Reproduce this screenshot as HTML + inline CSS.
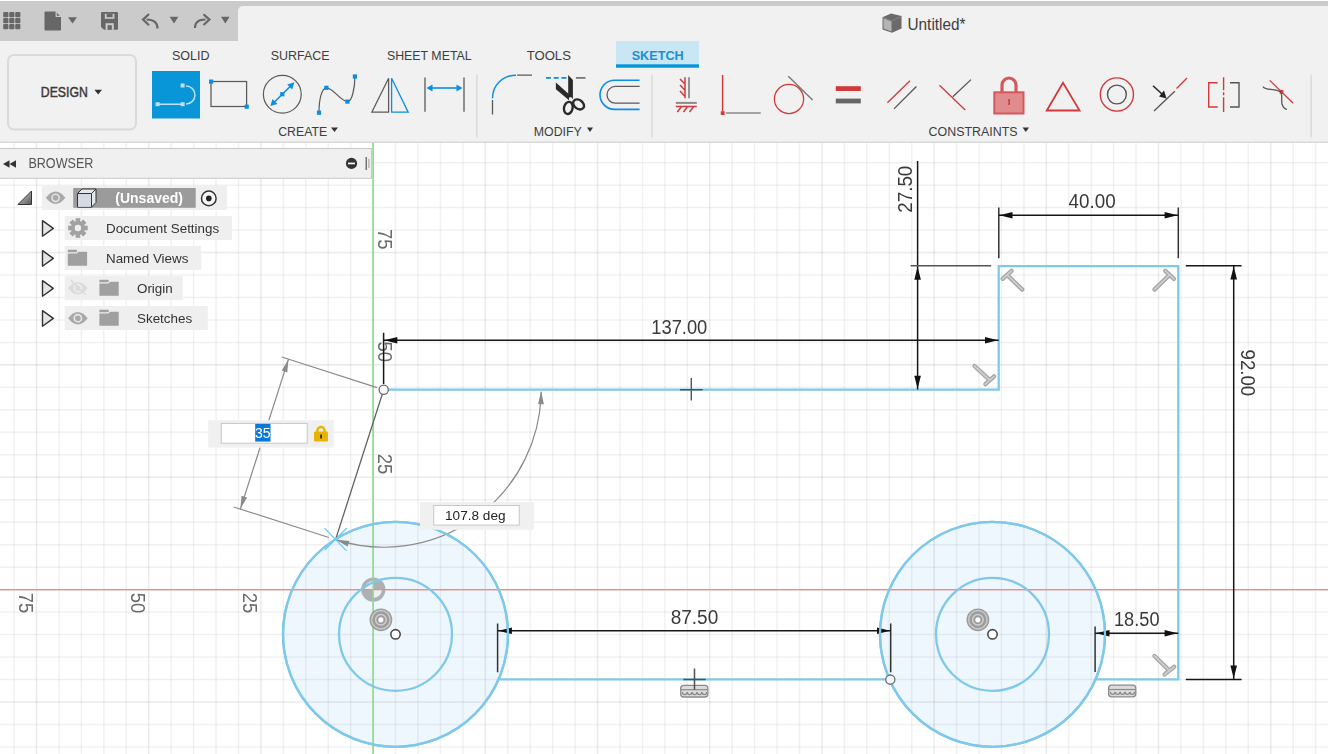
<!DOCTYPE html>
<html><head><meta charset="utf-8"><style>
html,body{margin:0;padding:0;width:1328px;height:754px;overflow:hidden;background:#f2f2f2;font-family:'Liberation Sans', sans-serif;}
</style></head><body>
<svg width="1328" height="754" viewBox="0 0 1328 754" style="position:absolute;left:0;top:0;will-change:transform">
<rect x="0" y="143" width="1328" height="611" fill="#ffffff"/>
<circle cx="395.5" cy="634.3" r="112.5" fill="#eef7fd"/>
<circle cx="992.5" cy="634.3" r="112.5" fill="#eef7fd"/>
<path d="M14.10 143V754M58.98 143V754M81.42 143V754M103.86 143V754M126.30 143V754M171.18 143V754M193.62 143V754M216.06 143V754M238.50 143V754M283.38 143V754M305.82 143V754M328.26 143V754M350.70 143V754M395.58 143V754M418.02 143V754M440.46 143V754M462.90 143V754M507.78 143V754M530.22 143V754M552.66 143V754M575.10 143V754M619.98 143V754M642.42 143V754M664.86 143V754M687.30 143V754M732.18 143V754M754.62 143V754M777.06 143V754M799.50 143V754M844.38 143V754M866.82 143V754M889.26 143V754M911.70 143V754M956.58 143V754M979.02 143V754M1001.46 143V754M1023.90 143V754M1068.78 143V754M1091.22 143V754M1113.66 143V754M1136.10 143V754M1180.98 143V754M1203.42 143V754M1225.86 143V754M1248.30 143V754M1293.18 143V754M1315.62 143V754" stroke="#000" stroke-opacity="0.055" stroke-width="1.5" fill="none"/>
<path d="M0 162.67H1328M0 185.14H1328M0 207.61H1328M0 230.08H1328M0 275.02H1328M0 297.49H1328M0 319.96H1328M0 342.43H1328M0 387.37H1328M0 409.84H1328M0 432.31H1328M0 454.78H1328M0 499.72H1328M0 522.19H1328M0 544.66H1328M0 567.13H1328M0 612.07H1328M0 634.54H1328M0 657.01H1328M0 679.48H1328M0 724.42H1328M0 746.89H1328" stroke="#000" stroke-opacity="0.055" stroke-width="1.5" fill="none"/>
<path d="M36.54 143V754M148.74 143V754M260.94 143V754M485.34 143V754M597.54 143V754M709.74 143V754M821.94 143V754M934.14 143V754M1046.34 143V754M1158.54 143V754M1270.74 143V754" stroke="#000" stroke-opacity="0.08" stroke-width="1.6" fill="none"/>
<path d="M0 252.55H1328M0 364.90H1328M0 477.25H1328M0 701.95H1328" stroke="#000" stroke-opacity="0.08" stroke-width="1.6" fill="none"/>
<path d="M0 589.6H1328" stroke="#e48f8f" stroke-width="1.2"/>
<path d="M373.14 143V754" stroke="#92dc92" stroke-width="1.3"/>
<path d="M0 142.5H1328" stroke="#e2e2e2" stroke-width="1"/>
<text transform="translate(18.8,592.8) rotate(90)" style="font-family:'Liberation Sans', sans-serif;font-size:20.6px;fill:#6a6a6a" textLength="20.6" lengthAdjust="spacingAndGlyphs" x="0" y="0">75</text>
<text transform="translate(130.9,592.8) rotate(90)" style="font-family:'Liberation Sans', sans-serif;font-size:20.6px;fill:#6a6a6a" textLength="20.6" lengthAdjust="spacingAndGlyphs" x="0" y="0">50</text>
<text transform="translate(243.0,592.8) rotate(90)" style="font-family:'Liberation Sans', sans-serif;font-size:20.6px;fill:#6a6a6a" textLength="20.6" lengthAdjust="spacingAndGlyphs" x="0" y="0">25</text>
<text transform="translate(378.2,249.65) rotate(90)" style="font-family:'Liberation Sans', sans-serif;font-size:20.6px;fill:#6a6a6a" text-anchor="end" textLength="20.6" lengthAdjust="spacingAndGlyphs" x="0" y="0">75</text>
<text transform="translate(378.2,362.00) rotate(90)" style="font-family:'Liberation Sans', sans-serif;font-size:20.6px;fill:#6a6a6a" text-anchor="end" textLength="20.6" lengthAdjust="spacingAndGlyphs" x="0" y="0">50</text>
<text transform="translate(378.2,474.35) rotate(90)" style="font-family:'Liberation Sans', sans-serif;font-size:20.6px;fill:#6a6a6a" text-anchor="end" textLength="20.6" lengthAdjust="spacingAndGlyphs" x="0" y="0">25</text>
<circle cx="373.34" cy="589.6" r="12.1" fill="#adb1b4"/>
<path d="M373.34 589.6H381.84A8.5 8.5 0 0 1 373.34 598.1Z M373.34 589.6H364.84A8.5 8.5 0 0 1 373.34 581.1Z" fill="#eaf1f5"/>
<path d="M0 589.6H1328" stroke="#e48f8f" stroke-width="1.4"/>
<path d="M373.14 143V754" stroke="#8ddb8d" stroke-width="1.35"/>
<circle cx="395.5" cy="634.3" r="112.5" fill="none" stroke="#7fc8ea" stroke-width="2.3"/>
<circle cx="395.5" cy="634.3" r="56.5" fill="none" stroke="#7fc8ea" stroke-width="2.3"/>
<circle cx="992.5" cy="634.3" r="112.5" fill="none" stroke="#7fc8ea" stroke-width="2.3"/>
<circle cx="992.5" cy="634.3" r="56.5" fill="none" stroke="#7fc8ea" stroke-width="2.3"/>
<path d="M387.7 389.7H998.7V266.1H1178.3V679.4H1095.56M498.56 679.4H889.44" fill="none" stroke="#7fc8ea" stroke-width="2.3" stroke-linejoin="miter"/>
<path d="M383.70 389.70L335.55 539.66" stroke="#5e5e5e" stroke-width="1.3"/>
<path d="M377.04 387.56L281.82 356.99" stroke="#8a8a8a" stroke-width="1.2"/>
<path d="M328.89 537.52L233.68 506.95" stroke="#8a8a8a" stroke-width="1.2"/>
<path d="M288.49 359.13L240.34 509.09" stroke="#8a8a8a" stroke-width="1.2"/>
<path d="M288.49 359.13L287.27 372.39L281.75 370.62Z" fill="#8a8a8a"/>
<path d="M240.34 509.09L241.55 495.83L247.08 497.60Z" fill="#8a8a8a"/>
<path d="M541.20 391.70A157.5 157.5 0 0 1 335.55 539.66" stroke="#8a8a8a" stroke-width="1.2" fill="none"/>
<path d="M541.00 391.20L543.90 404.20L538.10 404.20Z" fill="#8a8a8a"/>
<path d="M336.08 539.83L349.34 541.04L347.57 546.56Z" fill="#8a8a8a"/>
<path d="M324.55 528.16L346.55 550.86M324.75 550.06L346.85 528.06" stroke="#6cc8f2" stroke-width="1.3"/>
<circle cx="383.7" cy="389.7" r="4.6" fill="#f4f8fa" stroke="#6c6c6c" stroke-width="1.3"/>
<path d="M383.6 332.7V384M383.6 340.2H998.7" stroke="#161616" stroke-width="1.5" fill="none"/>
<path d="M384.30 340.20L397.30 336.90L397.30 343.50Z" fill="#111"/>
<path d="M998.00 340.20L985.00 343.50L985.00 336.90Z" fill="#111"/>
<text x="679.3" y="333.5" text-anchor="middle" textLength="56" lengthAdjust="spacingAndGlyphs" style="font-family:'Liberation Sans', sans-serif;font-size:19.4px;fill:#3a3a3a">137.00</text>
<path d="M917.6 161V389.5" stroke="#161616" stroke-width="1.5"/>
<path d="M910.6 265.8H991.2" stroke="#555" stroke-width="1.5"/>
<path d="M917.60 266.80L920.90 279.80L914.30 279.80Z" fill="#111"/>
<path d="M917.60 388.70L914.30 375.70L920.90 375.70Z" fill="#111"/>
<text transform="translate(911.5,189.2) rotate(-90)" text-anchor="middle" textLength="47" lengthAdjust="spacingAndGlyphs" style="font-family:'Liberation Sans', sans-serif;font-size:19.4px;fill:#3a3a3a">27.50</text>
<path d="M998.8 207.4V258.3M1178.3 207.4V258.3" stroke="#333" stroke-width="1.5"/>
<path d="M998.8 215.2H1178.3" stroke="#161616" stroke-width="1.5"/>
<path d="M999.50 215.20L1012.50 211.90L1012.50 218.50Z" fill="#111"/>
<path d="M1177.60 215.20L1164.60 218.50L1164.60 211.90Z" fill="#111"/>
<text x="1092.1" y="208.1" text-anchor="middle" textLength="47" lengthAdjust="spacingAndGlyphs" style="font-family:'Liberation Sans', sans-serif;font-size:19.4px;fill:#3a3a3a">40.00</text>
<path d="M1185.8 265.8H1241.6M1185.8 679.4H1241.6" stroke="#161616" stroke-width="1.5"/>
<path d="M1233.7 265.8V679.4" stroke="#161616" stroke-width="1.5"/>
<path d="M1233.70 266.60L1237.00 279.60L1230.40 279.60Z" fill="#111"/>
<path d="M1233.70 678.60L1230.40 665.60L1237.00 665.60Z" fill="#111"/>
<text transform="translate(1240.6,372.85) rotate(90)" text-anchor="middle" textLength="46.7" lengthAdjust="spacingAndGlyphs" style="font-family:'Liberation Sans', sans-serif;font-size:19.4px;fill:#3a3a3a">92.00</text>
<path d="M497.6 623.6V672.3M890.7 623.6V672.3" stroke="#333" stroke-width="1.5"/>
<path d="M497.6 630.8H890.7" stroke="#161616" stroke-width="1.5"/>
<path d="M498.40 630.80L511.90 627.50L511.90 634.10Z" fill="#111"/>
<path d="M890.00 630.80L877.00 634.10L877.00 627.50Z" fill="#111"/>
<text x="694.45" y="624.4" text-anchor="middle" textLength="47.5" lengthAdjust="spacingAndGlyphs" style="font-family:'Liberation Sans', sans-serif;font-size:19.4px;fill:#3a3a3a">87.50</text>
<path d="M1095.1 626.6V672" stroke="#333" stroke-width="1.5"/>
<path d="M1095.1 633.3H1178.3" stroke="#161616" stroke-width="1.5"/>
<path d="M1096.00 633.30L1109.50 630.00L1109.50 636.60Z" fill="#111"/>
<path d="M1177.60 633.30L1164.60 636.60L1164.60 630.00Z" fill="#111"/>
<text x="1136.75" y="626.0" text-anchor="middle" textLength="45.5" lengthAdjust="spacingAndGlyphs" style="font-family:'Liberation Sans', sans-serif;font-size:19.4px;fill:#3a3a3a">18.50</text>
<circle cx="395.5" cy="634.3" r="112.5" fill="none" stroke="#7fc8ea" stroke-width="2.3"/>
<circle cx="992.5" cy="634.3" r="112.5" fill="none" stroke="#7fc8ea" stroke-width="2.3"/>
<path d="M1002.7 278.9L1011.5 270.9M1007.1 274.9L1022.3 289.6" stroke="#a4a4a4" stroke-width="4.3" stroke-linecap="round" fill="none"/>
<path d="M1002.7 278.9L1011.5 270.9M1007.1 274.9L1022.3 289.6" stroke="#cdcdcd" stroke-width="1.9" stroke-linecap="round" fill="none"/>
<path d="M1165.2 270.9L1174.0 278.9M1169.6 274.9L1154.4 289.6" stroke="#a4a4a4" stroke-width="4.3" stroke-linecap="round" fill="none"/>
<path d="M1165.2 270.9L1174.0 278.9M1169.6 274.9L1154.4 289.6" stroke="#cdcdcd" stroke-width="1.9" stroke-linecap="round" fill="none"/>
<path d="M985.4 384.1L994.1 376.4M989.8 380.2L974.5 366.0" stroke="#a4a4a4" stroke-width="4.3" stroke-linecap="round" fill="none"/>
<path d="M985.4 384.1L994.1 376.4M989.8 380.2L974.5 366.0" stroke="#cdcdcd" stroke-width="1.9" stroke-linecap="round" fill="none"/>
<path d="M1164.6 674.4L1174.2 666.8M1169.4 670.6L1154.5 656.0" stroke="#a4a4a4" stroke-width="4.3" stroke-linecap="round" fill="none"/>
<path d="M1164.6 674.4L1174.2 666.8M1169.4 670.6L1154.5 656.0" stroke="#cdcdcd" stroke-width="1.9" stroke-linecap="round" fill="none"/>
<path d="M691.3 378V400.5M680 389.7H702.7" stroke="#555" stroke-width="1.4"/>
<rect x="680.7" y="685.4" width="27.2" height="11.6" rx="3" fill="#dcdcdc" stroke="#8a8a8a" stroke-width="1.3"/>
<path d="M680.7 689.6999999999999H707.9000000000001" stroke="#8a8a8a" stroke-width="1.2"/>
<path d="M682.5 692.0a2.3 2.6 0 0 0 4.6 0M687.4 692.0a2.3 2.6 0 0 0 4.6 0M692.3 692.0a2.3 2.6 0 0 0 4.6 0M697.2 692.0a2.3 2.6 0 0 0 4.6 0M702.1 692.0a2.3 2.6 0 0 0 4.6 0" stroke="#8a8a8a" stroke-width="1.2" fill="none"/>
<path d="M694.5 668.4V689.8M683.4 679.6H705.8" stroke="#505050" stroke-width="1.5"/>
<rect x="1108.6" y="685.2" width="27.2" height="11.6" rx="3" fill="#dcdcdc" stroke="#8a8a8a" stroke-width="1.3"/>
<path d="M1108.6 689.5H1135.8" stroke="#8a8a8a" stroke-width="1.2"/>
<path d="M1110.4 691.8a2.3 2.6 0 0 0 4.6 0M1115.3 691.8a2.3 2.6 0 0 0 4.6 0M1120.2 691.8a2.3 2.6 0 0 0 4.6 0M1125.1 691.8a2.3 2.6 0 0 0 4.6 0M1130.0 691.8a2.3 2.6 0 0 0 4.6 0" stroke="#8a8a8a" stroke-width="1.2" fill="none"/>
<circle cx="890.3" cy="679.6" r="4.6" fill="#eef6fb" stroke="#6c6c6c" stroke-width="1.3"/>
<circle cx="380.9" cy="619.8" r="11.4" fill="#9c9c9c"/>
<circle cx="380.9" cy="619.8" r="9.2" fill="none" stroke="#c8c8c8" stroke-width="1.5"/>
<circle cx="380.9" cy="619.8" r="5.3" fill="none" stroke="#cfcfcf" stroke-width="1.5"/>
<circle cx="380.9" cy="619.8" r="2.6" fill="#fbfdff"/>
<circle cx="395.5" cy="634.3" r="4.7" fill="#fff" stroke="#4a4a4a" stroke-width="1.6"/>
<circle cx="977.9" cy="619.8" r="11.4" fill="#9c9c9c"/>
<circle cx="977.9" cy="619.8" r="9.2" fill="none" stroke="#c8c8c8" stroke-width="1.5"/>
<circle cx="977.9" cy="619.8" r="5.3" fill="none" stroke="#cfcfcf" stroke-width="1.5"/>
<circle cx="977.9" cy="619.8" r="2.6" fill="#fbfdff"/>
<circle cx="992.5" cy="634.3" r="4.7" fill="#fff" stroke="#4a4a4a" stroke-width="1.6"/>
<rect x="208.2" y="420.2" width="125.5" height="27.4" fill="#f0f0f0"/>
<rect x="221.2" y="423.4" width="86" height="19.8" fill="#fff" stroke="#c6c6c6" stroke-width="1"/>
<rect x="255.2" y="423.9" width="15.3" height="17.7" fill="#0a78d6"/>
<text x="262.8" y="438.3" text-anchor="middle" style="font-family:'Liberation Sans', sans-serif;font-size:14px;fill:#fff">35</text>
<path d="M317.4 432.5V430.6a3.6 3.6 0 0 1 7.2 0V432.5" fill="none" stroke="#e3b600" stroke-width="2.5"/>
<rect x="314" y="431.6" width="14" height="10" rx="1" fill="#e9b400"/>
<rect x="320.2" y="434.5" width="1.8" height="4" fill="#3a2a00"/>
<rect x="420" y="502.1" width="113.9" height="27.7" fill="#f0f0f0"/>
<rect x="433.7" y="505.5" width="85.6" height="19.6" fill="#fff" stroke="#c8c8c8" stroke-width="1"/>
<text x="475.3" y="519.5" text-anchor="middle" style="font-family:'Liberation Sans', sans-serif;font-size:13.6px;fill:#222">107.8 deg</text>
</svg>
<svg width="1328" height="754" viewBox="0 0 1328 754" style="position:absolute;left:0;top:0">
<rect x="0" y="0" width="1328" height="1" fill="#ffffff"/>
<rect x="0" y="1" width="1328" height="40" fill="#cbcbcb"/>
<path d="M238 41V11a5 5 0 0 1 5 -5H1328V41Z" fill="#f1f1f1"/>
<rect x="0" y="41" width="1328" height="101" fill="#f1f1f1"/>
<rect x="0" y="141.5" width="1328" height="1.5" fill="#d9d9d9"/>
<rect x="3.2" y="12.0" width="5.2" height="5.2" rx="1" fill="#676767"/>
<rect x="3.2" y="18.0" width="5.2" height="5.2" rx="1" fill="#676767"/>
<rect x="3.2" y="24.0" width="5.2" height="5.2" rx="1" fill="#676767"/>
<rect x="9.2" y="12.0" width="5.2" height="5.2" rx="1" fill="#676767"/>
<rect x="9.2" y="18.0" width="5.2" height="5.2" rx="1" fill="#676767"/>
<rect x="9.2" y="24.0" width="5.2" height="5.2" rx="1" fill="#676767"/>
<rect x="15.2" y="12.0" width="5.2" height="5.2" rx="1" fill="#676767"/>
<rect x="15.2" y="18.0" width="5.2" height="5.2" rx="1" fill="#676767"/>
<rect x="15.2" y="24.0" width="5.2" height="5.2" rx="1" fill="#676767"/>
<path d="M45.5 11.5H55.5L61 17V29.5a1 1 0 0 1 -1 1H45.5a1 1 0 0 1 -1 -1V12.5a1 1 0 0 1 1 -1Z" fill="#676767"/>
<path d="M56.2 11.2V16.4H61.3" fill="none" stroke="#cbcbcb" stroke-width="1.2"/>
<path d="M68 17.3H77L72.5 23.4Z" fill="#676767"/>
<path d="M102 12H117a1 1 0 0 1 1 1V28.8a1 1 0 0 1 -1 1H104L101 27V13a1 1 0 0 1 1 -1Z" fill="#676767"/>
<rect x="104.8" y="13.8" width="9.6" height="5" fill="#cbcbcb"/>
<rect x="106.6" y="13.8" width="6" height="3.4" fill="#676767"/>
<rect x="105.6" y="23.2" width="8.2" height="6.6" fill="#cbcbcb"/>
<rect x="107.6" y="25.2" width="4.2" height="4.6" fill="#676767"/>
<path d="M157.5 28.5C157.5 22 153 19.5 146.5 19.5" fill="none" stroke="#676767" stroke-width="2.2"/>
<path d="M149 14L143 19.6L149 25.2" fill="none" stroke="#676767" stroke-width="2.2"/>
<path d="M169.7 16.7H178.4L174 23.5Z" fill="#676767"/>
<path d="M195 28C195 22 199 19.5 205.5 19.5" fill="none" stroke="#676767" stroke-width="2.2"/>
<path d="M203.5 14.2L209.4 19.6L203.5 25" fill="none" stroke="#676767" stroke-width="2.2"/>
<path d="M221 16.7H229.6L225.3 23.5Z" fill="#676767"/>
<path d="M882.5 17.2L891 13.5L901.5 16V28.5L892 32.8L882.5 29.5Z" fill="#6a6a6a"/>
<path d="M883.5 18.2L891.5 21.5V31.5L883.5 28.5Z" fill="#b4b4b4"/>
<path d="M883 17.5L891.5 21L901.5 16.5" fill="none" stroke="#8a8a8a" stroke-width="0.8"/>
<text x="907.5" y="29.7" textLength="58" lengthAdjust="spacingAndGlyphs" style="font-family:'Liberation Sans', sans-serif;font-size:16.2px;fill:#404040">Untitled*</text>
<rect x="8" y="55" width="128" height="74.5" rx="6" fill="#f1f1f1" stroke="#dadada" stroke-width="2"/>
<text x="40.8" y="97.3" textLength="47" lengthAdjust="spacingAndGlyphs" style="font-family:'Liberation Sans', sans-serif;font-size:14px;fill:#3a3a3a;stroke:#3a3a3a;stroke-width:0.45px">DESIGN</text>
<path d="M94.4 89.8H102L98.2 94.6Z" fill="#333"/>
<text x="172.0" y="59.6" textLength="37.6" lengthAdjust="spacingAndGlyphs" style="font-family:'Liberation Sans', sans-serif;font-size:13.5px;fill:#3d3d3d">SOLID</text>
<text x="270.8" y="59.6" textLength="58.8" lengthAdjust="spacingAndGlyphs" style="font-family:'Liberation Sans', sans-serif;font-size:13.5px;fill:#3d3d3d">SURFACE</text>
<text x="386.9" y="59.6" textLength="84.8" lengthAdjust="spacingAndGlyphs" style="font-family:'Liberation Sans', sans-serif;font-size:13.5px;fill:#3d3d3d">SHEET METAL</text>
<text x="526.7" y="59.6" textLength="44.2" lengthAdjust="spacingAndGlyphs" style="font-family:'Liberation Sans', sans-serif;font-size:13.5px;fill:#3d3d3d">TOOLS</text>
<rect x="616" y="41" width="83" height="26.5" fill="#c9e6f5"/>
<rect x="616" y="64.3" width="83" height="3.4" fill="#0696d7"/>
<text x="631.7" y="59.6" textLength="52" lengthAdjust="spacingAndGlyphs" style="font-family:'Liberation Sans', sans-serif;font-size:13px;font-weight:bold;fill:#1d8fd1">SKETCH</text>
<text x="278.2" y="135.6" textLength="49" lengthAdjust="spacingAndGlyphs" style="font-family:'Liberation Sans', sans-serif;font-size:13.7px;fill:#3d3d3d">CREATE</text>
<path d="M331 127.5H338L334.5 132Z" fill="#333"/>
<text x="533.8" y="135.6" textLength="48" lengthAdjust="spacingAndGlyphs" style="font-family:'Liberation Sans', sans-serif;font-size:13.7px;fill:#3d3d3d">MODIFY</text>
<path d="M587 127.5H593L590 132Z" fill="#333"/>
<text x="928.6" y="135.6" textLength="89" lengthAdjust="spacingAndGlyphs" style="font-family:'Liberation Sans', sans-serif;font-size:13.7px;fill:#3d3d3d">CONSTRAINTS</text>
<path d="M1022.6 127.5H1029L1025.8 132Z" fill="#333"/>
<rect x="476.2" y="74.5" width="1.3" height="63" fill="#d6d6d6"/>
<rect x="651.4" y="74.5" width="1.3" height="63" fill="#d6d6d6"/>
<rect x="1310.4" y="74.5" width="1.3" height="63" fill="#d6d6d6"/>
<rect x="152" y="71" width="48" height="47.5" fill="#0896d8"/>
<path d="M159 104.2H182.6M186 86A9 9 0 0 1 186 104" fill="none" stroke="#bfe0f3" stroke-width="1.5"/>
<rect x="155.6" y="102.2" width="4" height="4" fill="#bfe0f3"/>
<rect x="180.6" y="102.2" width="4" height="4" fill="#bfe0f3"/>
<rect x="180.6" y="83.5" width="4" height="4" fill="#bfe0f3"/>
<rect x="211" y="81.5" width="35.6" height="25" fill="none" stroke="#5a5a5a" stroke-width="1.25"/>
<rect x="209" y="79.5" width="4.2" height="4.2" fill="#0a8fe6"/>
<rect x="244.6" y="104.6" width="4.2" height="4.2" fill="#0a8fe6"/>
<circle cx="282.3" cy="94.2" r="18.9" fill="none" stroke="#5a5a5a" stroke-width="1.2"/>
<path d="M273 103.5L291.8 84.8" stroke="#0a8fe6" stroke-width="1.6"/>
<path d="M294.4 82.3L287.2 84.5L292.2 89.5Z" fill="#0a8fe6"/>
<path d="M270.3 106.1L272.5 98.9L277.5 103.9Z" fill="#0a8fe6"/>
<rect x="280.2" y="92.1" width="4.2" height="4.2" fill="#0a8fe6"/>
<path d="M319 112.7C319 98 322 88 326.4 87.8C333 87.5 340 101 347.4 101.6C352 102 354.9 88 354.9 76.5" fill="none" stroke="#5a5a5a" stroke-width="1.2"/>
<rect x="316.9" y="110.60000000000001" width="4.2" height="4.2" fill="#0a8fe6"/>
<rect x="324.29999999999995" y="85.7" width="4.2" height="4.2" fill="#0a8fe6"/>
<rect x="345.29999999999995" y="99.5" width="4.2" height="4.2" fill="#0a8fe6"/>
<rect x="352.79999999999995" y="74.4" width="4.2" height="4.2" fill="#0a8fe6"/>
<path d="M371.8 112.2L388.6 78.3V112.2Z" fill="none" stroke="#5a5a5a" stroke-width="1.25" stroke-linejoin="miter"/>
<path d="M391.6 78.3V112.2H408.2Z" fill="none" stroke="#0a8fe6" stroke-width="1.3"/>
<path d="M425 77.5V111.7M464 77.5V111.7" stroke="#5a5a5a" stroke-width="1.3"/>
<path d="M430 88H459" stroke="#0a8fe6" stroke-width="1.6"/>
<path d="M426.5 88L432.5 84.5V91.5Z M462.5 88L456.5 84.5V91.5Z" fill="#0a8fe6"/>
<path d="M492.5 100V114.5M517 75.2H532" stroke="#5a5a5a" stroke-width="1.3"/>
<path d="M492.5 98.2C492.5 85 503 75.2 516 75.2" fill="none" stroke="#0a8fe6" stroke-width="1.5"/>
<path d="M546 77.9H566.5" stroke="#0a8fe6" stroke-width="1.8" stroke-dasharray="5,2.7"/>
<path d="M575.9 77.9H585.5" stroke="#777" stroke-width="1.8"/>
<path d="M568.2 75L572.9 80V98.8L568.2 97.5Z" fill="#2a2a2a"/>
<path d="M555.9 82.6L569 94.2V100.2L555.9 89.2Z" fill="#2a2a2a"/>
<circle cx="570.5" cy="98.6" r="1.5" fill="#f1f1f1"/>
<ellipse cx="568.3" cy="107.9" rx="4.3" ry="6.1" transform="rotate(12 568.3 107.9)" fill="none" stroke="#2a2a2a" stroke-width="2.4"/>
<ellipse cx="578.6" cy="104.4" rx="4.4" ry="6.0" transform="rotate(-52 578.6 104.4)" fill="none" stroke="#2a2a2a" stroke-width="2.4"/>
<path d="M639.6 80.2H614.6A14.6 14.6 0 0 0 614.6 109.4H639.6" fill="none" stroke="#0a8fe6" stroke-width="1.6"/>
<path d="M639.6 86.4H615.4A8.4 8.4 0 0 0 615.4 103.2H639.6" fill="none" stroke="#5a5a5a" stroke-width="1.3"/>
<path d="M689 77.2V98.2" stroke="#8a8a8a" stroke-width="1.8"/>
<path d="M675.8 102.9H696.8" stroke="#8a8a8a" stroke-width="2"/>
<path d="M685 77.2V98.2M680 79L685 84M680 85L685 90.2M680 91L685 96.4" stroke="#d03a3a" stroke-width="1.5" fill="none"/>
<path d="M675.8 106.4H696.8M681.7 106.4L677.3 112M687.8 106.4L683.4 112M694 106.4L689.5 112" stroke="#d03a3a" stroke-width="1.5" fill="none"/>
<path d="M722.6 75V111" stroke="#d03a3a" stroke-width="1.5"/>
<rect x="720.8" y="111.2" width="3.8" height="3.8" fill="#d03a3a"/>
<path d="M726 113H760.7" stroke="#888" stroke-width="1.5"/>
<circle cx="789" cy="99" r="14.6" fill="none" stroke="#d03a3a" stroke-width="1.3"/>
<path d="M788.3 76.3L812.6 100" stroke="#777" stroke-width="1.4"/>
<rect x="835.8" y="86.2" width="25" height="4.8" fill="#d03a3a"/>
<rect x="835.8" y="98.6" width="25" height="4.8" fill="#666"/>
<path d="M887.4 102.8L910 80.7" stroke="#d03a3a" stroke-width="1.3"/>
<path d="M894 108.9L916.4 86.5" stroke="#555" stroke-width="1.3"/>
<path d="M939.5 85.2L965.2 110" stroke="#d03a3a" stroke-width="1.3"/>
<path d="M952.8 96.8L971 79.6" stroke="#555" stroke-width="1.3"/>
<path d="M1002 92V85a7 7 0 0 1 14 0V92" fill="none" stroke="#d5585c" stroke-width="3.2"/>
<rect x="994.3" y="92.3" width="29.2" height="21.2" fill="#e08c8e" stroke="#d5585c" stroke-width="2"/>
<rect x="1008.3" y="99" width="1.6" height="6" fill="#c04044"/>
<path d="M1046.8 110.5L1063 82.8L1079.6 110.5Z" fill="none" stroke="#d03a3a" stroke-width="1.8" stroke-linejoin="miter"/>
<circle cx="1116.9" cy="94.5" r="16.6" fill="none" stroke="#d03a3a" stroke-width="1.4"/>
<circle cx="1116.9" cy="94.5" r="9.4" fill="none" stroke="#555" stroke-width="1.4"/>
<path d="M1154 111L1174.8 91.2" stroke="#555" stroke-width="1.3"/>
<path d="M1176.6 88.5L1187 78" stroke="#d03a3a" stroke-width="1.3"/>
<path d="M1153 85.8L1162 94" stroke="#222" stroke-width="1.5"/>
<path d="M1166.5 98.6L1159 96.5L1164 90.5Z" fill="#222"/>
<path d="M1217.8 82.7H1208.7V107H1217.8" fill="none" stroke="#d03a3a" stroke-width="1.4"/>
<path d="M1230 82.7H1239V107H1230" fill="none" stroke="#555" stroke-width="1.4"/>
<path d="M1223.6 77.3V112" stroke="#d03a3a" stroke-width="1.4" stroke-dasharray="13,2,3,2,16"/>
<path d="M1269.7 80.4L1293.2 103.3" stroke="#d03a3a" stroke-width="1.3"/>
<rect x="1279.6" y="89.9" width="3.8" height="3.8" fill="#d03a3a"/>
<path d="M1263 86.7C1266 91 1273 88 1280 91.5C1283 93 1281 99 1282 104C1283 107 1285 109 1287 109.3" fill="none" stroke="#555" stroke-width="1.3"/>
<rect x="-1" y="148.5" width="372.5" height="29.8" fill="#f0f0f0" stroke="#c8c8c8" stroke-width="1"/>
<path d="M3 164L9.5 160.3V167.7Z M9.5 164L16 160.3V167.7Z" fill="#333"/>
<text x="28.4" y="168.4" textLength="65" lengthAdjust="spacingAndGlyphs" style="font-family:'Liberation Sans', sans-serif;font-size:14.2px;fill:#555">BROWSER</text>
<circle cx="351.5" cy="163.4" r="5.6" fill="#333"/>
<rect x="348" y="162.6" width="7" height="1.7" fill="#fff"/>
<rect x="365.6" y="157" width="1.2" height="13" fill="#555"/>
<rect x="368.3" y="159" width="1.2" height="9" fill="#aaa"/>
<rect x="42" y="186" width="185" height="24" fill="#efefef"/>
<rect x="64.7" y="216" width="167.3" height="24" fill="#efefef"/>
<rect x="64.7" y="246" width="136.5" height="24" fill="#efefef"/>
<rect x="64.7" y="276" width="118.1" height="24" fill="#efefef"/>
<rect x="64.7" y="306" width="143.1" height="24" fill="#efefef"/>
<defs><linearGradient id="tg" x1="0" y1="0" x2="1" y2="1"><stop offset="0" stop-color="#ddd"/><stop offset="1" stop-color="#555"/></linearGradient></defs>
<path d="M18 204.5L31.5 191V204.5Z" fill="url(#tg)" stroke="#333" stroke-width="1"/>
<path d="M45.8 197.8Q55.6 185.3 65.4 197.8Q55.6 210.3 45.8 197.8Z" fill="#a9a9a9"/><circle cx="55.6" cy="197.8" r="3.6" fill="none" stroke="#e2e2e2" stroke-width="1.6"/>
<rect x="73.2" y="188" width="122.5" height="19.8" fill="#9b9b9b"/>
<path d="M77.5 193.5L82 189H96L96 202.5L91.5 207.2H77.5Z" fill="#e4e7ec" stroke="#333" stroke-width="1"/>
<path d="M77.5 193.5H91.5V207.2M91.5 193.5L96 189" fill="none" stroke="#333" stroke-width="1"/>
<path d="M78 194H91V206.7H78Z" fill="#d6dbe3"/>
<text x="115.3" y="202.8" style="font-family:'Liberation Sans', sans-serif;font-size:14px;font-weight:bold;fill:#ffffff">(Unsaved)</text>
<circle cx="208.8" cy="198.4" r="7.3" fill="#f6f6f6" stroke="#333" stroke-width="1.5"/>
<circle cx="208.8" cy="198.4" r="2.8" fill="#222"/>
<path d="M42.5 220.6L53.3 228.4L42.5 236.20000000000002Z" fill="#e4e6ea" stroke="#333" stroke-width="1.4" stroke-linejoin="round"/>
<path d="M42.5 250.59999999999997L53.3 258.4L42.5 266.2Z" fill="#e4e6ea" stroke="#333" stroke-width="1.4" stroke-linejoin="round"/>
<path d="M42.5 280.59999999999997L53.3 288.4L42.5 296.2Z" fill="#e4e6ea" stroke="#333" stroke-width="1.4" stroke-linejoin="round"/>
<path d="M42.5 310.59999999999997L53.3 318.4L42.5 326.2Z" fill="#e4e6ea" stroke="#333" stroke-width="1.4" stroke-linejoin="round"/>
<rect x="75.60" y="218.20" width="4.6" height="5" transform="rotate(0 77.9 228.0)" fill="#a2a2a2"/><rect x="75.60" y="218.20" width="4.6" height="5" transform="rotate(45 77.9 228.0)" fill="#a2a2a2"/><rect x="75.60" y="218.20" width="4.6" height="5" transform="rotate(90 77.9 228.0)" fill="#a2a2a2"/><rect x="75.60" y="218.20" width="4.6" height="5" transform="rotate(135 77.9 228.0)" fill="#a2a2a2"/><rect x="75.60" y="218.20" width="4.6" height="5" transform="rotate(180 77.9 228.0)" fill="#a2a2a2"/><rect x="75.60" y="218.20" width="4.6" height="5" transform="rotate(225 77.9 228.0)" fill="#a2a2a2"/><rect x="75.60" y="218.20" width="4.6" height="5" transform="rotate(270 77.9 228.0)" fill="#a2a2a2"/><rect x="75.60" y="218.20" width="4.6" height="5" transform="rotate(315 77.9 228.0)" fill="#a2a2a2"/>
<circle cx="77.9" cy="228.0" r="7" fill="#a2a2a2"/><circle cx="77.9" cy="228.0" r="3.2" fill="#efefef"/>
<text x="106" y="232.6" style="font-family:'Liberation Sans', sans-serif;font-size:13.4px;fill:#333">Document Settings</text>
<path d="M67.8 249.8H76.0a0.9 0.9 0 0 1 0 2.5H67.8Z" fill="#a0a0a0"/><path d="M67.8 253.5H76.7L78.7 251.70000000000002H87.1V265.8H67.8Z" fill="#a0a0a0"/>
<text x="106" y="262.6" style="font-family:'Liberation Sans', sans-serif;font-size:13.4px;fill:#333">Named Views</text>
<g opacity="0.45"><path d="M68.10000000000001 288.2Q77.9 275.7 87.7 288.2Q77.9 300.7 68.10000000000001 288.2Z" fill="#c4c4c4"/><circle cx="77.9" cy="288.2" r="3.6" fill="none" stroke="#eee" stroke-width="1.6"/><path d="M70.7 280.1L86 295" stroke="#c4c4c4" stroke-width="1.6"/></g>
<path d="M99.4 279.8H107.60000000000001a0.9 0.9 0 0 1 0 2.5H99.4Z" fill="#a0a0a0"/><path d="M99.4 283.5H108.30000000000001L110.30000000000001 281.7H118.7V295.8H99.4Z" fill="#a0a0a0"/>
<text x="137" y="292.6" style="font-family:'Liberation Sans', sans-serif;font-size:13.4px;fill:#333">Origin</text>
<path d="M68.10000000000001 318.2Q77.9 305.7 87.7 318.2Q77.9 330.7 68.10000000000001 318.2Z" fill="#a9a9a9"/><circle cx="77.9" cy="318.2" r="3.6" fill="none" stroke="#e8e8e8" stroke-width="1.6"/>
<path d="M99.4 309.8H107.60000000000001a0.9 0.9 0 0 1 0 2.5H99.4Z" fill="#a0a0a0"/><path d="M99.4 313.5H108.30000000000001L110.30000000000001 311.7H118.7V325.8H99.4Z" fill="#a0a0a0"/>
<text x="137" y="322.6" style="font-family:'Liberation Sans', sans-serif;font-size:13.4px;fill:#333">Sketches</text>
</svg>
</body></html>
